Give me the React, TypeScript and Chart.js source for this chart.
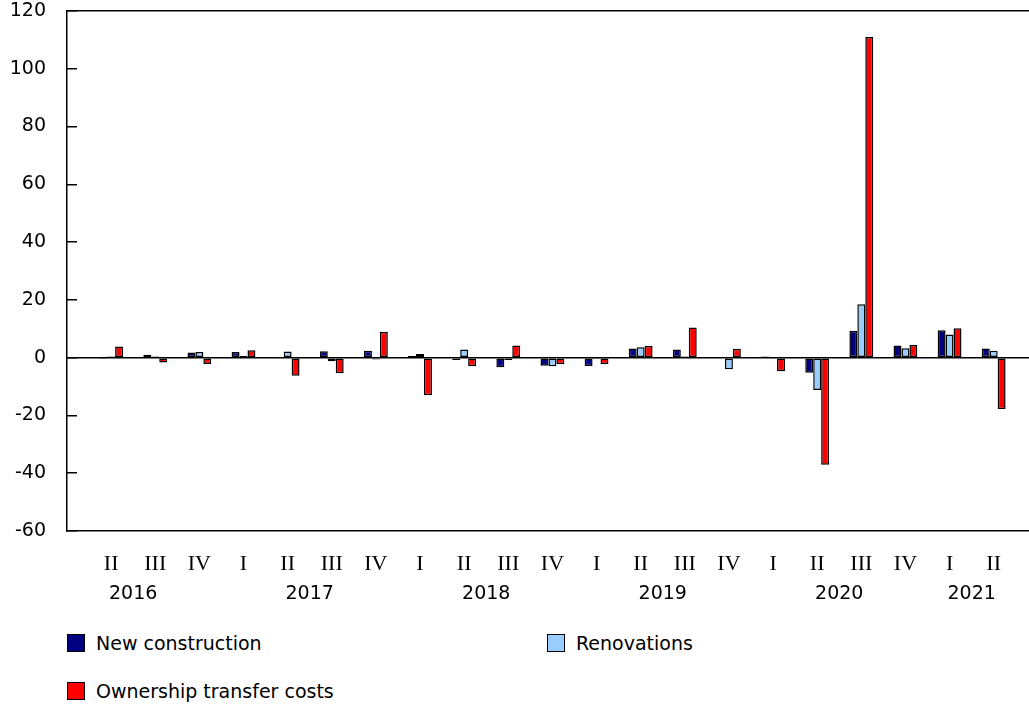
import { useEffect, useRef } from "react";
import { Chart, registerables } from "chart.js";

Chart.register(...registerables);

const quarters = ["II", "III", "IV", "I", "II", "III", "IV", "I", "II", "III", "IV", "I", "II", "III", "IV", "I", "II", "III", "IV", "I", "II"];
const years = ["2016", "2017", "2018", "2019", "2020", "2021"];
const yearTickAt = [1.5, 5.5, 9.5, 13.5, 17.5, 20.5];
const yTicks = [-60, -40, -20, 0, 20, 40, 60, 80, 100, 120];

const seriesLabels = ["New construction", "Renovations", "Ownership transfer costs"];
const seriesColors = ["#000080", "#99ccff", "#ff0000"];

const newConstruction = [-0.5, 1.0, 1.8, 2.0, -0.4, 2.2, 2.4, 0.6, -0.8, -3.3, -2.8, -2.9, 3.2, 2.8, 0.1, 0.4, -5.2, 9.3, 4.2, 9.5, 3.2];
const renovations = [0.4, 0.4, 2.0, 0.6, 2.1, -1.2, -0.6, 1.3, 2.8, -0.8, -3.0, -0.1, 3.6, 0.4, -4.0, -0.4, -11.2, 18.5, 3.3, 8.0, 2.4];
const ownershipTransfer = [3.9, -1.7, -2.2, 2.6, -6.3, -5.4, 9.0, -13.0, -3.0, 4.2, -2.3, -2.2, 4.0, 10.4, 3.1, -4.7, -37.1, 111.0, 4.4, 10.2, -17.8];

const seriesValues = [newConstruction, renovations, ownershipTransfer];

const X_MAX = 21.8;

export default function App() {
  const ref = useRef<HTMLCanvasElement | null>(null);

  useEffect(() => {
    if (!ref.current) return;
    const chart = new Chart(ref.current, {
      type: "bar",
      data: {
        datasets: seriesValues.map((vals, k) => ({
          label: seriesLabels[k],
          data: vals.map((v, i) => ({ x: i + 1, y: v })),
          backgroundColor: seriesColors[k],
          borderColor: "#000000",
          borderWidth: 1.5,
          borderSkipped: false,
          categoryPercentage: 0.54,
          barPercentage: 1,
        })),
      },
      options: {
        responsive: false,
        animation: false,
        layout: { padding: { top: 11, left: 0, right: 0, bottom: 0 } },
        plugins: {
          legend: { display: false },
          tooltip: { enabled: false },
        },
        scales: {
          x: {
            type: "linear",
            position: "bottom",
            min: 0,
            max: X_MAX,
            offset: false,
            afterBuildTicks: (s: any) => {
              s.ticks = quarters.map((_, i) => ({ value: i + 1 }));
            },
            ticks: {
              autoSkip: false,
              maxRotation: 0,
              minRotation: 0,
              padding: 20,
              color: "#000000",
              font: { family: "'Liberation Serif', 'DejaVu Serif', serif", size: 22 },
              callback: (v: any) => quarters[Math.round(v) - 1] ?? "",
            },
            grid: { display: false, drawTicks: false, offset: false },
            border: { display: true, color: "#000000", width: 1.5 },
            afterFit: (s: any) => {
              s.height = 46;
              s.paddingLeft = 0;
              s.paddingRight = 0;
            },
          },
          x2: {
            type: "linear",
            position: "bottom",
            min: 0,
            max: X_MAX,
            offset: false,
            afterBuildTicks: (s: any) => {
              s.ticks = yearTickAt.map((v) => ({ value: v }));
            },
            ticks: {
              autoSkip: false,
              maxRotation: 0,
              minRotation: 0,
              padding: 6,
              color: "#000000",
              font: { family: "'DejaVu Sans', Verdana, sans-serif", size: 19 },
              callback: (v: any) => {
                const idx = yearTickAt.findIndex((p) => Math.abs(p - v) < 1e-6);
                return idx >= 0 ? years[idx] : "";
              },
            },
            grid: { display: false, drawTicks: false, offset: false },
            border: { display: false },
            afterFit: (s: any) => {
              s.height = 44;
              s.paddingLeft = 0;
              s.paddingRight = 0;
            },
          },
          y: {
            type: "linear",
            min: yTicks[0],
            max: yTicks[yTicks.length - 1],
            afterBuildTicks: (s: any) => {
              s.ticks = yTicks.map((v) => ({ value: v }));
            },
            ticks: {
              padding: 31,
              color: "#000000",
              font: { family: "'DejaVu Sans', Verdana, sans-serif", size: 19 },
              callback: (v: any) => String(v),
            },
            grid: {
              drawOnChartArea: true,
              drawTicks: true,
              tickLength: -10,
              lineWidth: 1.5,
              tickColor: "#000000",
              color: (c: any) =>
                c.tick && (c.tick.value === 0 || c.tick.value === 120) ? "#000000" : "rgba(0,0,0,0)",
            },
            border: { display: true, color: "#000000", width: 1.5 },
            afterFit: (s: any) => {
              s.width = 67;
              s.paddingTop = 0;
              s.paddingBottom = 0;
            },
          },
        },
      } as any,
    });
    return () => chart.destroy();
  }, []);

  const legendPos = [
    { left: 67, top: 634 },
    { left: 547, top: 634 },
    { left: 67, top: 682 },
  ];

  return (
    <div
      style={{
        position: "absolute",
        left: 0,
        top: 0,
        width: 1029,
        height: 704,
        background: "#ffffff",
        overflow: "hidden",
        fontFamily: "'DejaVu Sans', Verdana, sans-serif",
        fontSize: 19,
        color: "#000000",
      }}
    >
      <canvas ref={ref} width={1029} height={621} style={{ position: "absolute", left: 0, top: 0 }} />
      {seriesLabels.map((lab, k) => (
        <div
          key={lab}
          style={{
            position: "absolute",
            left: legendPos[k].left,
            top: legendPos[k].top,
            display: "flex",
            alignItems: "center",
            height: 18,
            whiteSpace: "nowrap",
          }}
        >
          <span
            style={{
              display: "inline-block",
              width: 18,
              height: 18,
              boxSizing: "border-box",
              border: "1.5px solid #000",
              background: seriesColors[k],
              marginRight: 11,
            }}
          />
          <span style={{ lineHeight: "18px" }}>{lab}</span>
        </div>
      ))}
    </div>
  );
}
